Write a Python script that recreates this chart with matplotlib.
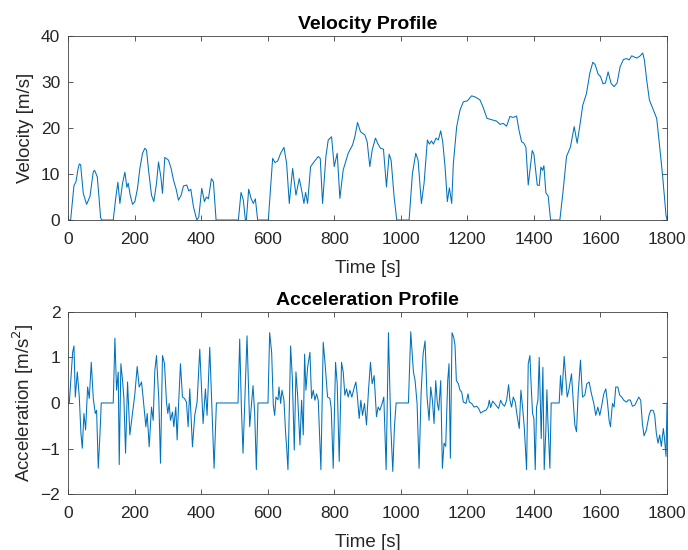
import matplotlib
matplotlib.use("Agg")
import matplotlib.pyplot as plt

plt.rcParams['font.family'] = ['Liberation Sans', 'DejaVu Sans']

# Velocity trace of the drive cycle [s], [m/s]
time_v = [0, 8, 18, 24, 30, 34, 38, 46, 56, 66, 76, 80, 88, 92, 98, 101, 136, 144, 150,
          156, 164, 171, 177, 181, 187, 194, 201, 209, 216, 224, 231, 236, 242, 251, 258,
          266, 272, 279, 284, 291, 297, 302, 310, 317, 325, 332, 340, 347, 357, 363, 369,
          377, 387, 393, 402, 410, 416, 422, 431, 437, 445, 512, 520, 527, 533, 536, 543,
          550, 557, 563, 570, 602, 615, 622, 630, 639, 649, 657, 665, 675, 685, 695, 702,
          709, 714, 720, 729, 739, 752, 758, 765, 775, 782, 792, 800, 809, 817, 827, 842,
          855, 862, 870, 879, 892, 899, 907, 914, 924, 931, 939, 948, 957, 965, 971, 980,
          988, 1025, 1035, 1045, 1052, 1062, 1070, 1080, 1086, 1092, 1098, 1106, 1113,
          1120, 1126, 1133, 1140, 1146, 1153, 1158, 1168, 1178, 1188, 1200, 1213, 1225,
          1238, 1247, 1259, 1268, 1278, 1288, 1298, 1308, 1318, 1328, 1338, 1348, 1355,
          1363, 1370, 1376, 1383, 1395, 1400, 1410, 1416, 1421, 1426, 1430, 1436, 1443,
          1450, 1478, 1488, 1498, 1510, 1521, 1530, 1538, 1547, 1558, 1568, 1577, 1584,
          1593, 1600, 1608, 1615, 1623, 1632, 1641, 1650, 1659, 1669, 1679, 1686, 1694,
          1709, 1718, 1727, 1732, 1739, 1747, 1759, 1769, 1779, 1787, 1797, 1800]
velocity = [0, 0, 7.5, 8.3, 11, 12.2, 12, 5.8, 3.4, 5.1, 10.5, 10.8, 9.4, 6, 0.5, 0, 0, 5.1,
            8.2, 3.6, 8, 10.4, 7.1, 8, 5.4, 3.4, 4, 6.9, 11.2, 14.5, 15.6, 15.2, 10.9, 5.4,
            4, 8, 12.6, 9.4, 5.8, 13.6, 13.3, 13, 11.2, 8.7, 6.7, 4.3, 5.4, 7.4, 7.6, 6.3,
            6.7, 2.9, 0, 0.6, 6.9, 4, 5, 4.6, 9, 8.3, 0, 0, 6, 4.3, 0, 0, 6.7, 4.7, 3.6,
            4.6, 0, 0, 13.4, 12.5, 12.8, 14.5, 15.8, 12.3, 3.6, 11.2, 5.4, 9, 6.5, 3.6, 6,
            3.6, 11.6, 12.6, 13.8, 13.4, 3.6, 13.8, 17.4, 18.1, 11.6, 14.5, 4.7, 10.9,
            14.5, 16.3, 18.1, 21.2, 19.2, 18.5, 17, 11.6, 15.2, 17.8, 16.6, 15.6, 15.4,
            7.2, 14.3, 13, 5, 0, 0, 10.1, 14.5, 13, 3.6, 8, 17.4, 16.5, 17.2, 16.5, 17.8,
            17.4, 19.4, 17, 11.6, 4, 7, 3.6, 12.3, 20.3, 23.9, 25.7, 25.9, 27, 26.7, 26.1,
            24.6, 22.1, 21.9, 21.7, 21.5, 20.8, 21, 20.4, 22.5, 22.3, 22.6, 19.6, 17, 16.7,
            15.8, 7.6, 15.1, 14.3, 7.6, 7.5, 11.5, 10.8, 11.8, 5.9, 5.2, 0, 0, 6.5, 13.8,
            15.9, 20.3, 16.7, 20.5, 25, 27.5, 31.9, 34.3, 33.8, 31.7, 31.2, 29.6, 29.8,
            32.2, 29.7, 29, 29.8, 33.3, 34.9, 35.1, 34.8, 35.7, 35.2, 35.6, 36.3, 34.8,
            30.4, 26.1, 23.9, 22.1, 15.2, 9.4, 1, 0]

# Acceleration trace [s], [m/s^2]
time_a = [0, 4, 14, 18, 22, 28, 34, 39, 43, 48, 53, 59, 64, 70, 76, 82, 86, 91, 96, 100,
          136, 141, 146, 151, 154, 159, 164, 168, 173, 179, 186, 194, 201, 208, 214, 221,
          226, 234, 238, 244, 251, 256, 261, 266, 273, 278, 284, 290, 296, 300, 304, 308,
          314, 318, 324, 328, 332, 338, 344, 350, 356, 361, 366, 374, 381, 388, 396, 401,
          406, 413, 418, 426, 432, 439, 446, 511, 516, 521, 526, 531, 538, 546, 556, 561,
          566, 571, 601, 606, 612, 617, 621, 625, 631, 634, 639, 643, 649, 654, 657, 661,
          665, 669, 674, 680, 685, 690, 697, 702, 707, 711, 715, 720, 727, 732, 737, 742,
          747, 752, 760, 767, 773, 780, 787, 791, 797, 804, 809, 815, 822, 827, 832, 837,
          842, 847, 853, 859, 865, 869, 875, 880, 885, 891, 897, 903, 909, 914, 920, 927,
          932, 937, 944, 949, 956, 963, 970, 976, 981, 986, 1023, 1030, 1038, 1043, 1049,
          1055, 1061, 1067, 1073, 1079, 1085, 1090, 1095, 1100, 1105, 1110, 1114, 1120,
          1125, 1130, 1135, 1141, 1145, 1149, 1154, 1159, 1163, 1167, 1173, 1178, 1183,
          1188, 1196, 1202, 1206, 1213, 1220, 1228, 1234, 1240, 1248, 1256, 1262, 1266,
          1270, 1276, 1282, 1288, 1294, 1300, 1306, 1312, 1318, 1324, 1328, 1333, 1338,
          1344, 1350, 1356, 1361, 1366, 1371, 1378, 1383, 1388, 1392, 1396, 1400, 1404,
          1408, 1412, 1416, 1422, 1427, 1431, 1436, 1439, 1442, 1448, 1452, 1476, 1480,
          1484, 1491, 1496, 1500, 1505, 1513, 1518, 1523, 1528, 1533, 1540, 1546, 1553,
          1559, 1566, 1573, 1580, 1586, 1592, 1598, 1603, 1610, 1616, 1621, 1626, 1630,
          1636, 1641, 1646, 1652, 1658, 1664, 1670, 1678, 1685, 1690, 1696, 1703, 1708,
          1715, 1721, 1726, 1731, 1738, 1746, 1751, 1758, 1763, 1768, 1773, 1778, 1783,
          1789, 1792, 1797, 1800]
acceleration = [0, 0, 1.11, 1.25, 0.13, 0.68, 0.13, -0.67, -0.99, -0.23, -0.59, 0.35, 0.1,
                0.89, 0.1, -0.23, -0.16, -1.43, -0.7, 0, 0, 1.42, 0.28, 0.68, -1.35, 0.86,
                0.49, 0.1, -1.1, 0.46, -0.7, -0.23, 0.2, 0.8, 0.35, 0.46, 0.1, -0.52,
                -0.23, -0.96, -0.09, -0.38, 0.71, 1.04, 0.06, -1.32, 1.04, 0.86, 0.02,
                -0.23, -0.01, -0.38, -0.2, -0.52, -0.09, -0.81, -0.09, 0.86, 0.13, 0.1,
                0.02, -0.52, 0.31, -0.96, -0.27, 0.02, 1.18, 0.35, -0.45, 0.31, -0.27,
                1.22, -0.01, -1.43, 0, 0, 1.4, -0.09, -1.1, -0.01, 1.47, -0.52, 0.38,
                -0.23, -1.46, 0, 0, 1.54, 1.11, -0.05, -0.27, 0.13, 0.07, 0.35, -0.01,
                0.28, 0.06, -0.67, -0.96, -1.46, -0.16, 1.25, 0.57, -1.03, 0.68, 0.17,
                -0.92, 0.06, -0.7, 1.07, 0.28, 0.78, 1.11, 0.1, 0.28, 0.06, 0.2, 0.06,
                -1.46, 1.33, 0.82, 0.13, 0.1, -0.12, -1.43, 0.89, 0.42, -1.28, 0.89, 0.68,
                0.17, 0.31, 0.13, 0.28, 0.13, 0.31, 0.46, 0.2, -0.34, 0.06, -0.27, -0.01,
                -0.48, 0.28, 0.89, 0.42, 0.6, -0.3, -0.09, -0.16, -0.01, 0.13, -1.46, 1.54,
                -0.52, -1.5, -0.52, 0, 0, 1.56, 0.68, 0.49, -0.01, -1.43, 0.2, 1.07, 1.36,
                0.13, -0.38, 0.35, 0.06, -0.45, 0.49, -0.01, -0.16, 0.49, -1.43, -0.88,
                -0.95, 0.49, 0.86, -1.21, 1.54, 1.44, 1.26, 0.49, 0.42, 0.28, 0.24, 0.02,
                -0.01, 0.2, 0.02, -0.01, -0.09, -0.07, -0.12, -0.22, -0.18, -0.16, -0.09,
                0.06, -0.1, 0.04, -0.01, -0.07, -0.12, 0.06, -0.03, -0.07, 0.06, 0.4, 0.06,
                -0.09, 0.13, 0.02, -0.3, -0.56, 0.28, -0.09, -0.52, -1.46, 0.86, 1.04,
                0.35, -0.23, -0.34, -1.46, -0.09, 0.06, 1.0, -0.78, 0.78, -1.46, -0.59,
                0.29, -0.38, -1.43, 0, 0, 0.6, 0.17, 1.02, 0.53, 0.13, 0.28, 0.64, 0.06,
                -0.48, -0.63, 0.2, 0.94, 0.13, 0.17, 0.42, 0.46, 0.2, -0.01, -0.27, -0.09,
                -0.27, -0.09, 0.2, 0.31, 0.02, -0.38, -0.52, -0.01, -0.09, 0.35, 0.35,
                0.17, 0.13, 0.06, 0.02, 0.07, 0.06, -0.07, -0.05, 0.02, 0.13, 0.06, -0.45,
                -0.72, -0.59, -0.27, -0.16, -0.16, -0.27, -0.67, -0.88, -0.7, -0.95,
                -0.56, -0.74, -1.17, 0]

LINE = '#0072BD'
TEXT = '#262626'
AXC = '#404040'

fig = plt.figure(figsize=(6.88, 5.5), dpi=100)
ax1 = fig.add_axes([0.0988, 0.6, 0.8707, 0.3345])
ax2 = fig.add_axes([0.0988, 0.1013, 0.8707, 0.332])


def style(ax):
    for s in ax.spines.values():
        s.set_color(AXC)
        s.set_linewidth(0.6)
    ax.tick_params(direction='in', length=3.5, width=0.6, color=AXC,
                   labelcolor=TEXT, labelsize=12.5, top=True, right=True)
    ax.tick_params(axis='x', pad=8.5)
    ax.tick_params(axis='y', pad=5.5)
    ax.set_xlim(0, 1800)
    ax.set_xticks(range(0, 1801, 200))


ax1.plot(time_v, velocity, color=LINE, lw=0.75)
style(ax1)
ax1.set_ylim(0, 40)
ax1.set_yticks([0, 10, 20, 30, 40])
ax1.set_title('Velocity Profile', fontsize=14, fontweight='bold', color='black', pad=5)
ax1.set_xlabel('Time [s]', fontsize=13.5, color=TEXT, labelpad=9.5)
ax1.set_ylabel('Velocity [m/s]', fontsize=13.5, color=TEXT, labelpad=5)

ax2.plot(time_a, acceleration, color=LINE, lw=0.75)
style(ax2)
ax2.set_ylim(-2, 2)
ax2.set_yticks([-2, -1, 0, 1, 2])
ax2.set_title('Acceleration Profile', fontsize=14, fontweight='bold', color='black', pad=5)
ax2.set_xlabel('Time [s]', fontsize=13.5, color=TEXT, labelpad=9.5)
ax2.set_ylabel('Acceleration [m/s$^2$]', fontsize=13.5, color=TEXT, labelpad=3)

fig.savefig('out.png', dpi=100)
